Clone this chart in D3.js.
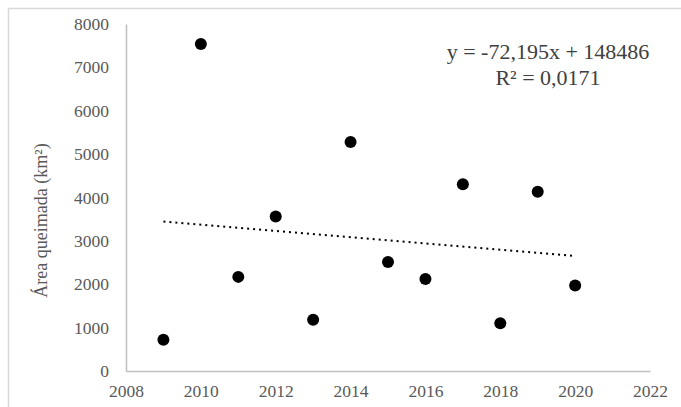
<!DOCTYPE html>
<html>
<head>
<meta charset="utf-8">
<script src="https://cdn.jsdelivr.net/npm/d3@7"></script>
<style>
  html, body { margin: 0; padding: 0; background: #fff; }
  svg { display: block; }
  text { font-family: "Liberation Serif", "Times New Roman", serif; }
</style>
</head>
<body>
<svg id="chart" width="681" height="407"></svg>
<script>
// Burned area per year (km²)
const years = [2009, 2010, 2011, 2012, 2013, 2014, 2015, 2016, 2017, 2018, 2019, 2020];
const burnedArea = [720, 7540, 2170, 3560, 1180, 5280, 2515, 2120, 4305, 1100, 4130, 1970];

// Linear trend fitted to the series
const trendSlope = -72.195;
const trendIntercept = 148486;
const trendLabel = ["y = -72,195x + 148486", "R² = 0,0171"];

const xTicks = [2008, 2010, 2012, 2014, 2016, 2018, 2020, 2022];
const yTicks = [0, 1000, 2000, 3000, 4000, 5000, 6000, 7000, 8000];
const yTitle = "Área queimada (km²)";

const svg = d3.select("#chart");
const W = 681, H = 407;
const margin = { left: 126, right: 31, top: 24, bottom: 36 };

const x = d3.scaleLinear().domain([2008, 2022]).range([margin.left, W - margin.right]);
const y = d3.scaleLinear().domain([0, 8000]).range([H - margin.bottom, margin.top]);

// chart frame
svg.append("rect")
  .attr("x", 8.5).attr("y", 8.5)
  .attr("width", 700).attr("height", 420)
  .attr("fill", "none").attr("stroke", "#d9d9d9").attr("stroke-width", 1.5);

const axisColor = "#bfbfbf";
const labelColor = "#595959";

// x axis
const xAxis = svg.append("g")
  .attr("transform", `translate(0,${y(0)})`)
  .call(d3.axisBottom(x).tickValues(xTicks).tickFormat(d3.format("d")).tickSize(0).tickPadding(14));
xAxis.attr("font-family", null);
xAxis.select(".domain").attr("stroke", axisColor).attr("stroke-width", 1.5);
xAxis.selectAll("text").attr("fill", labelColor).style("font-size", "17.5px")
  .style("font-family", '"Liberation Serif", serif');

// y axis
const yAxis = svg.append("g")
  .attr("transform", `translate(${x(2008)},0)`)
  .call(d3.axisLeft(y).tickValues(yTicks).tickFormat(d3.format("d")).tickSize(0).tickPadding(17));
yAxis.attr("font-family", null);
yAxis.select(".domain").attr("stroke", axisColor).attr("stroke-width", 1.5);
yAxis.selectAll("text").attr("fill", labelColor).style("font-size", "17.5px")
  .style("font-family", '"Liberation Serif", serif');

// y axis title
svg.append("text")
  .attr("transform", `translate(47,${(y(0) + y(8000)) / 2 + 23}) rotate(-90)`)
  .attr("text-anchor", "middle")
  .attr("fill", labelColor)
  .style("font-size", "18px")
  .text(yTitle);

// trend line across the observed years
const x0 = d3.min(years), x1 = d3.max(years);
svg.append("line")
  .attr("x1", x(x0)).attr("y1", y(trendSlope * x0 + trendIntercept))
  .attr("x2", x(x1)).attr("y2", y(trendSlope * x1 + trendIntercept))
  .attr("stroke", "#000").attr("stroke-width", 2)
  .attr("stroke-dasharray", "2,4");

// data points
svg.append("g").selectAll("circle")
  .data(years.map((yr, i) => ({ yr, v: burnedArea[i] })))
  .join("circle")
  .attr("cx", d => x(d.yr))
  .attr("cy", d => y(d.v))
  .attr("r", 6)
  .attr("fill", "#000");

// regression equation
svg.append("g").selectAll("text")
  .data(trendLabel)
  .join("text")
  .attr("x", 548)
  .attr("y", (d, i) => 59 + i * 26)
  .attr("text-anchor", "middle")
  .attr("fill", "#404040")
  .style("font-size", "22px")
  .text(d => d);
</script>
</body>
</html>
